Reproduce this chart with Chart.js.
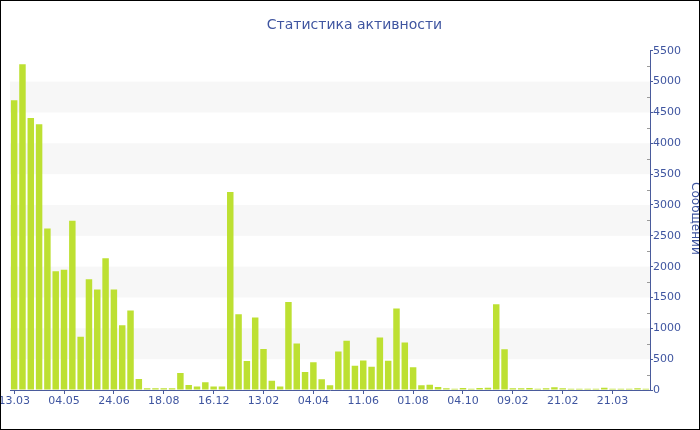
<!DOCTYPE html>
<html>
<head>
<meta charset="utf-8">
<script src="https://cdn.jsdelivr.net/npm/chart.js@4/dist/chart.umd.min.js"></script>
<style>
  html, body { margin: 0; padding: 0; background: #fff; }
  #wrap { width: 700px; height: 430px; border: 1px solid #000; box-sizing: border-box; overflow: hidden; }
  canvas { display: block; }
</style>
</head>
<body>
<div id="wrap"><canvas id="c" width="698" height="428"></canvas></div>
<script>
const chartTitle = 'Статистика активности';
const axisTitle = 'Сообщений';
const tickLabels = ['13.03','04.05','24.06','18.08','16.12','13.02','04.04','11.06','01.08','04.10','09.02','21.02','21.03'];
const labelEvery = 6;
const messages = [
  4700, 5280, 4410, 4310, 2620, 1925, 1950, 2745, 865, 1795,
  1630, 2135, 1630, 1050, 1290, 180, 27, 27, 27, 27,
  275, 80, 55, 125, 55, 55, 3210, 1230, 470, 1175,
  665, 150, 55, 1425, 755, 290, 450, 175, 75, 625,
  800, 395, 480, 375, 850, 475, 1320, 770, 370, 75,
  85, 50, 27, 22, 32, 22, 32, 38, 1390, 660,
  27, 27, 32, 22, 27, 43, 27, 22, 22, 22,
  22, 38, 22, 22, 22, 27, 22
];
const yMax = 5500;
const yStep = 500;

const categories = messages.map((_, i) => (i % labelEvery === 0 && tickLabels[i / labelEvery]) ? tickLabels[i / labelEvery] : '');

const axisColor = '#4a5b9c';
const textColor = '#3f55a0';
const font = 'DejaVu Sans';

const bandsPlugin = {
  id: 'bands',
  beforeDatasetsDraw(chart) {
    const { ctx, chartArea, scales: { y } } = chart;
    ctx.save();
    ctx.fillStyle = '#f7f7f7';
    for (let v = yStep; v < yMax; v += 2 * yStep) {
      const top = y.getPixelForValue(v + yStep);
      const bot = y.getPixelForValue(v);
      ctx.fillRect(chartArea.left, top, chartArea.right - chartArea.left, bot - top);
    }
    ctx.restore();
  }
};

const minorTicksPlugin = {
  id: 'minorTicks',
  afterDraw(chart) {
    const { ctx, chartArea, scales: { y } } = chart;
    ctx.save();
    ctx.strokeStyle = '#9a9a9a';
    ctx.lineWidth = 1;
    for (let v = yStep / 2; v < yMax; v += yStep) {
      const py = Math.round(y.getPixelForValue(v)) + 0.5;
      ctx.beginPath();
      ctx.moveTo(chartArea.right - 3, py);
      ctx.lineTo(chartArea.right, py);
      ctx.stroke();
    }
    ctx.fillStyle = textColor;
    ctx.font = '12px "' + font + '"';
    ctx.textAlign = 'center';
    ctx.textBaseline = 'alphabetic';
    ctx.translate(691, (chartArea.top + chartArea.bottom) / 2 - 2);
    ctx.rotate(Math.PI / 2);
    ctx.fillText(axisTitle, 0, 0);
    ctx.restore();
  }
};

new Chart(document.getElementById('c'), {
  type: 'bar',
  data: {
    labels: categories,
    datasets: [{
      data: messages,
      backgroundColor: '#bde032',
      borderWidth: 0,
      barPercentage: 0.78,
      categoryPercentage: 1
    }]
  },
  options: {
    responsive: false,
    devicePixelRatio: 1,
    animation: false,
    layout: { padding: { left: 9, right: 0, top: 0, bottom: 0 } },
    plugins: {
      legend: { display: false },
      tooltip: { enabled: false },
      title: {
        display: true,
        text: chartTitle,
        color: textColor,
        font: { family: font, size: 14, weight: 'normal' },
        padding: { top: 16, bottom: 17 }
      }
    },
    scales: {
      x: {
        grid: { display: true, drawOnChartArea: false, drawTicks: true, tickLength: 4, color: axisColor, offset: false },
        border: { color: axisColor, width: 1 },
        ticks: {
          autoSkip: false, maxRotation: 0, minRotation: 0, padding: 1,
          color: textColor, font: { family: font, size: 11 },
          callback: function(v, i) { const l = categories[i]; return l ? l : null; }
        },
        afterFit: s => { s.height = 39; s.paddingLeft = 0; s.paddingRight = 0; }
      },
      y: {
        position: 'right',
        min: 0, max: yMax,
        grid: { display: true, drawOnChartArea: false, drawTicks: true, tickLength: 3, color: axisColor },
        border: { color: axisColor, width: 1 },
        ticks: { stepSize: yStep, padding: 0, color: textColor, font: { family: font, size: 11 },
          callback: v => String(v) },
        afterFit: s => { s.width = 49; s.paddingTop = 0; s.paddingBottom = 0; }
      }
    }
  },
  plugins: [bandsPlugin, minorTicksPlugin]
});
</script>
</body>
</html>
